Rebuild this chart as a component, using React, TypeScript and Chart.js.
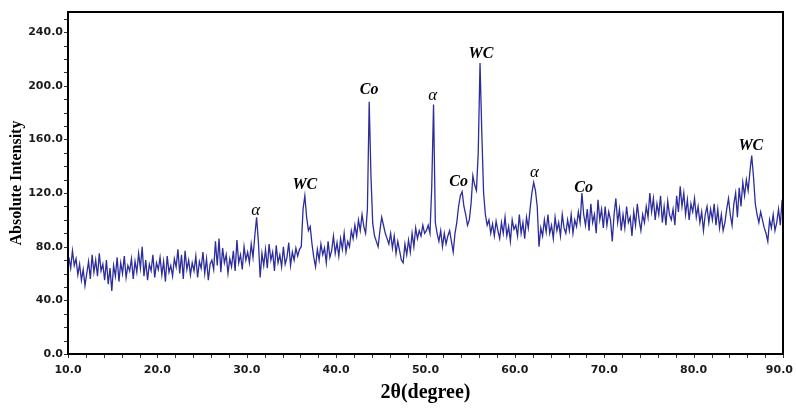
import { useEffect, useRef } from 'react';
import { Chart, registerables } from 'chart.js';

Chart.register(...registerables);

// 2θ sampling of the scan (degrees)
const TWO_THETA_START = 10.1;
const TWO_THETA_STEP = 0.2;

const intensity10to20 = [
  72, 64, 77, 66, 71, 59, 67, 55, 63, 51,
  60, 69, 56, 74, 61, 70, 58, 75, 62, 67,
  55, 70, 52, 64, 47, 66, 58, 72, 54, 68,
  60, 73, 57, 66, 62, 71, 56, 69, 61, 75,
  64, 80, 58, 70, 55, 67, 62, 74, 57, 68,
];
const intensity20to30 = [
  63, 72, 59, 69, 54, 73, 61, 66, 58, 71,
  65, 78, 60, 74, 56, 77, 63, 70, 59, 68,
  62, 73, 57, 69, 64, 76, 60, 71, 55, 67,
  70, 63, 84, 66, 86, 61, 79, 68, 74, 60,
  71, 65, 77, 62, 85, 68, 74, 63, 80, 70,
];
const intensity30to40 = [
  76, 68, 82, 72, 88, 102, 84, 57, 75, 66,
  78, 64, 82, 70, 76, 62, 81, 68, 74, 65,
  80, 67, 72, 83, 66, 76, 70, 79, 73, 78,
  80, 108, 118, 102, 92, 95, 82, 72, 65, 78,
  70, 82, 74, 79, 68, 84, 72, 77, 88, 75,
];
const intensity40to50 = [
  83, 73, 86, 78, 90, 76, 84, 80, 92, 86,
  96, 88, 100, 92, 104, 95, 90, 108, 188, 132,
  97, 88, 84, 80, 92, 102, 96, 90, 86, 82,
  90, 79, 88, 75, 84, 77, 70, 68, 82, 74,
  85, 76, 90, 80, 94, 86, 92, 88, 96, 90,
];
const intensity50to60 = [
  92, 96, 90, 125, 186, 98, 90, 84, 92, 80,
  90, 82, 88, 92, 84, 76, 90, 98, 110, 118,
  121, 110, 104, 96, 100, 112, 133, 126, 122, 150,
  217, 165, 120, 104, 96, 100, 90, 97, 88, 99,
  92, 86, 98, 90, 102, 88, 95, 84, 100, 93,
];
const intensity60to70 = [
  96, 88, 104, 90, 98, 86, 102, 94, 108, 120,
  128, 122, 110, 80, 94, 88, 100, 91, 104, 90,
  96, 86, 102, 92, 98, 88, 104, 94, 90, 100,
  92, 104, 90, 100, 95, 106, 98, 120, 104, 96,
  108, 92, 112, 98, 104, 90, 115, 100, 108, 94,
];
const intensity70to80 = [
  110, 96, 106, 100, 84, 104, 116, 98, 108, 92,
  104, 94, 110, 98, 102, 88, 106, 96, 112, 100,
  92, 104, 98, 110, 102, 120, 106, 116, 100, 112,
  104, 118, 98, 110, 96, 114, 104, 100, 108, 96,
  118, 106, 125, 110, 120, 104, 115, 100, 112, 106,
];
const intensity80to90 = [
  116, 102, 110, 98, 106, 92, 104, 110, 98, 108,
  100, 112, 96, 108, 94, 104, 92, 98, 108, 116,
  104, 96, 112, 120, 102, 124, 110, 128, 118, 130,
  122, 136, 148, 132, 112, 104, 98, 106, 100, 94,
  90, 84, 100, 94, 104, 92, 98, 108, 96, 115,
];

// Phase labels placed over the peaks (2θ, intensity of label centre)
const peakLabelText = ['α', 'WC', 'Co', 'α', 'Co', 'WC', 'α', 'Co', 'WC'];
const peakLabelTwoTheta = [31.0, 36.5, 43.7, 50.8, 53.7, 56.2, 62.2, 67.7, 86.4];
const peakLabelIntensity = [107, 126, 197, 193, 128, 224, 135, 124, 155];

// Axis ticks
const xTickValues = [10, 20, 30, 40, 50, 60, 70, 80, 90];
const yTickValues = [0, 40, 80, 120, 160, 200, 240];
const X_MIN = 10, X_MAX = 90, Y_MIN = 0, Y_MAX = 255;
const X_MINOR_STEP = 2, Y_MINOR_STEP = 10;

const allIntensity = [
  ...intensity10to20, ...intensity20to30, ...intensity30to40, ...intensity40to50,
  ...intensity50to60, ...intensity60to70, ...intensity70to80, ...intensity80to90,
];

const decorPlugin = {
  id: 'decor',
  afterDraw(chart: any) {
    const { ctx, chartArea: a, scales } = chart;
    const xs = scales.x, ys = scales.y;
    ctx.save();
    // minor ticks
    ctx.strokeStyle = '#333';
    ctx.lineWidth = 1;
    ctx.beginPath();
    for (let v = X_MIN; v <= X_MAX + 1e-6; v += X_MINOR_STEP) {
      const px = Math.round(xs.getPixelForValue(v)) + 0.5;
      ctx.moveTo(px, a.bottom);
      ctx.lineTo(px, a.bottom + 4);
    }
    for (let v = Y_MIN; v <= Y_MAX + 1e-6; v += Y_MINOR_STEP) {
      const py = Math.round(ys.getPixelForValue(v)) + 0.5;
      ctx.moveTo(a.left - 4, py);
      ctx.lineTo(a.left, py);
    }
    ctx.stroke();
    // frame
    ctx.strokeStyle = '#000';
    ctx.lineWidth = 2;
    ctx.strokeRect(a.left, a.top, a.right - a.left, a.bottom - a.top);
    // x tick labels
    ctx.font = 'bold 11px "DejaVu Sans"';
    ctx.fillStyle = '#1a1a1a';
    ctx.textAlign = 'center';
    ctx.textBaseline = 'middle';
    for (const v of xTickValues) {
      const label = v.toFixed(1);
      const w = ctx.measureText(label).width;
      let px = xs.getPixelForValue(v);
      px = Math.min(px, chart.width - w / 2 - 3);
      ctx.fillText(label, px, a.bottom + 16);
    }
    // peak labels
    ctx.fillStyle = '#000';
    peakLabelText.forEach((t, i) => {
      ctx.font = t === 'α' ? 'italic 17px "Liberation Serif"' : 'bold italic 16px "Liberation Serif"';
      ctx.fillText(t, xs.getPixelForValue(peakLabelTwoTheta[i]), ys.getPixelForValue(peakLabelIntensity[i]));
    });
    ctx.restore();
  },
};

export default function App() {
  const ref = useRef<HTMLCanvasElement>(null);
  useEffect(() => {
    const canvas = ref.current;
    if (!canvas) return;
    const points = allIntensity.map((y, i) => ({
      x: Number((TWO_THETA_START + i * TWO_THETA_STEP).toFixed(1)),
      y,
    }));
    const chart = new Chart(canvas, {
      type: 'line',
      data: {
        datasets: [
          {
            data: points,
            borderColor: '#2c2c9c',
            borderWidth: 1.3,
            pointRadius: 0,
            tension: 0,
            fill: false,
          },
        ],
      },
      options: {
        responsive: false,
        maintainAspectRatio: false,
        devicePixelRatio: 1,
        animation: false,
        layout: { padding: { left: 0, right: 13, top: 12, bottom: 0 } },
        plugins: { legend: { display: false }, tooltip: { enabled: false } },
        scales: {
          x: {
            type: 'linear',
            min: X_MIN,
            max: X_MAX,
            ticks: { display: false, stepSize: 10 },
            grid: { display: false, drawTicks: false },
            border: { display: false },
            title: {
              display: true,
              text: '2θ(degree)',
              color: '#000',
              font: { family: '"Liberation Serif"', weight: 'bold', size: 20 },
              padding: { top: 0, bottom: 3 },
            },
            afterFit: (s: any) => {
              s.height = 54;
              s.paddingLeft = 0;
              s.paddingRight = 0;
            },
          },
          y: {
            type: 'linear',
            min: Y_MIN,
            max: Y_MAX,
            afterBuildTicks: (s: any) => {
              s.ticks = yTickValues.map((v) => ({ value: v }));
            },
            ticks: {
              callback: (v: any) => Number(v).toFixed(1),
              color: '#1a1a1a',
              font: { family: '"DejaVu Sans"', weight: 'bold', size: 11 },
              padding: 5,
            },
            grid: { display: false, drawTicks: false },
            border: { display: false },
            title: {
              display: true,
              text: 'Absolute Intensity',
              color: '#000',
              font: { family: '"Liberation Serif"', weight: 'bold', size: 16 },
              padding: { top: 7, bottom: 0 },
            },
            afterFit: (s: any) => {
              s.width = 68;
              s.paddingTop = 0;
              s.paddingBottom = 0;
            },
          },
        },
      },
      plugins: [decorPlugin],
    });
    return () => chart.destroy();
  }, []);
  return (
    <div style={{ position: 'fixed', left: 0, top: 0, width: 796, height: 408, background: '#fff' }}>
      <canvas ref={ref} width={796} height={408} style={{ display: 'block', width: 796, height: 408 }} />
    </div>
  );
}
